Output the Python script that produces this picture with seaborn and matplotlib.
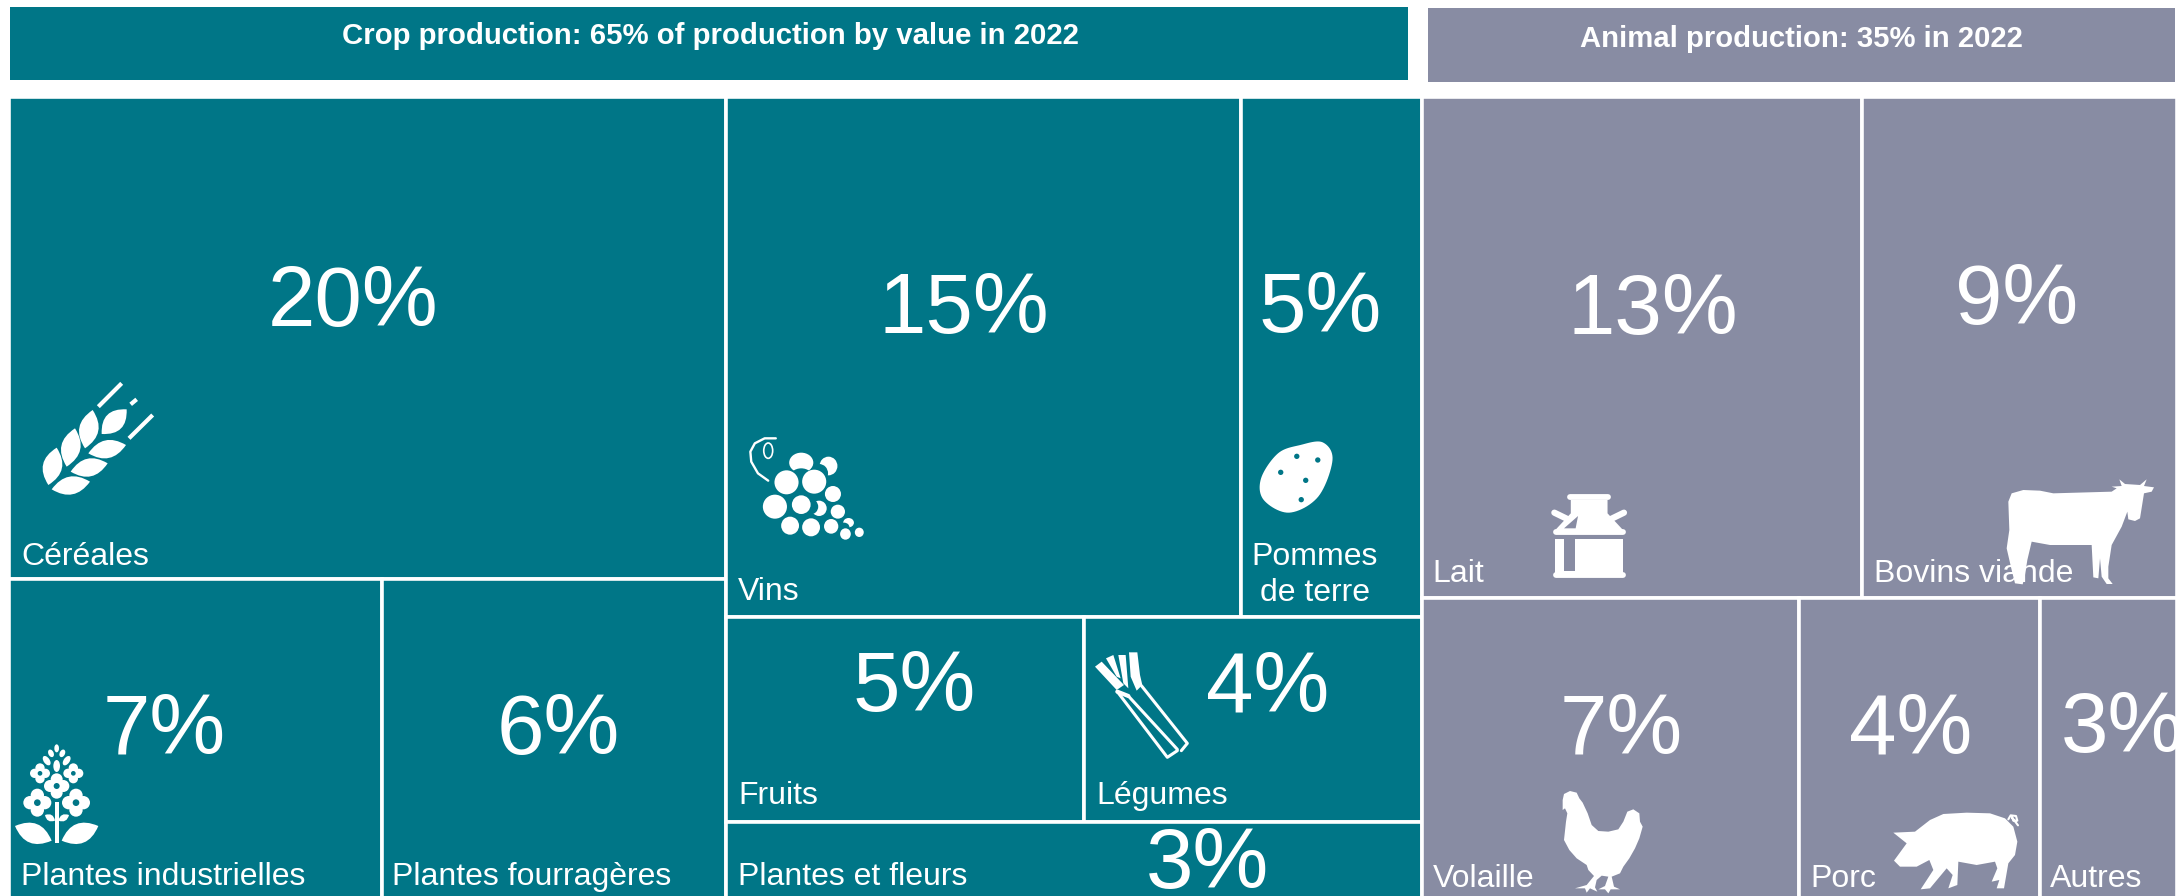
import matplotlib
matplotlib.use('Agg')
import matplotlib.pyplot as plt
from matplotlib.patches import Rectangle, Ellipse, Polygon, PathPatch
from matplotlib.path import Path
import numpy as np
import seaborn as sns

# --- Data ---
# cell areas are in % of the box, the printed labels are rounded separately in the source
cereal_col = ['Céréales', 'Plantes industrielles', 'Plantes fourragères']
cereal_area = [19.91, 6.85, 6.31]
cereal_pct = ['20%', '7%', '6%']

wine_row = ['Vins', 'Pommes\nde terre']
wine_area = [15.42, 5.43]
wine_pct = ['15%', '5%']

fruit_row = ['Fruits', 'Légumes']
fruit_area = [4.22, 3.98]
fruit_pct = ['5%', '4%']

flower_name = 'Plantes et fleurs'
flower_area = 3.05
flower_pct = '3%'

animal_top = ['Lait', 'Bovins viande']
animal_top_area = [12.72, 9.08]
animal_top_pct = ['13%', '9%']

animal_low = ['Volaille', 'Porc', 'Autres']
animal_low_area = [6.51, 4.16, 2.36]
animal_low_pct = ['7%', '4%', '3%']

crop_title = 'Crop production: 65% of production by value in 2022'
animal_title = 'Animal production: 35% in 2022'

# --- Style ---
sns.set_theme(style='white')
plt.rcParams['font.family'] = ['Liberation Sans', 'DejaVu Sans']
crop_col, animal_col = sns.color_palette(['#007687', '#888CA3'])
WHITE = 'white'

BOX = (9, 97, 2177, 898)  # pixels: left, top, right, bottom of the treemap

fig = plt.figure(figsize=(21.78, 8.96), dpi=100)
ax = fig.add_axes([0, 0, 1, 1])
ax.set_xlim(0, 2178)
ax.set_ylim(896, 0)
ax.axis('off')
sns.despine(ax=ax, left=True, bottom=True)

sx = (BOX[2] - BOX[0]) / (sum(cereal_area) + sum(wine_area) + sum(fruit_area) + flower_area
                          + sum(animal_top_area) + sum(animal_low_area))
box_h = BOX[3] - BOX[1]


def cell(x0, y0, x1, y1, color):
    ax.add_patch(Rectangle((x0, y0), x1 - x0, y1 - y0, facecolor=color, edgecolor=WHITE, lw=2.6, zorder=1))


def split_row(areas, x0, x1):
    # slice one row horizontally in proportion to its areas
    edges = [x0]
    for a in areas:
        edges.append(edges[-1] + (x1 - x0) * a / sum(areas))
    return edges


# crop, first column
c1 = BOX[0] + sx * sum(cereal_area)
c2 = c1 + sx * (sum(wine_area) + sum(fruit_area) + flower_area)
c3 = BOX[2]

y_cer = BOX[1] + box_h * cereal_area[0] / sum(cereal_area)
cell(BOX[0], BOX[1], c1, y_cer, crop_col)
e = split_row(cereal_area[1:], BOX[0], c1)
cell(e[0], y_cer, e[1], BOX[3], crop_col)
cell(e[1], y_cer, e[2], BOX[3], crop_col)

# crop, second column
col2_total = sum(wine_area) + sum(fruit_area) + flower_area
y_wine = BOX[1] + box_h * sum(wine_area) / col2_total
y_fruit = y_wine + box_h * sum(fruit_area) / col2_total
e = split_row(wine_area, c1, c2)
cell(e[0], BOX[1], e[1], y_wine, crop_col)
cell(e[1], BOX[1], e[2], y_wine, crop_col)
e = split_row(fruit_area, c1, c2)
cell(e[0], y_wine, e[1], y_fruit, crop_col)
cell(e[1], y_wine, e[2], y_fruit, crop_col)
cell(c1, y_fruit, c2, BOX[3], crop_col)

# animal column
y_an = BOX[1] + box_h * sum(animal_top_area) / (sum(animal_top_area) + sum(animal_low_area))
e = split_row(animal_top_area, c2, c3)
cell(e[0], BOX[1], e[1], y_an, animal_col)
cell(e[1], BOX[1], e[2], y_an, animal_col)
e = split_row(animal_low_area, c2, c3)
for i in range(3):
    cell(e[i], y_an, e[i + 1], BOX[3], animal_col)

# header bands
ax.add_patch(Rectangle((10, 7), 1398, 73.5, facecolor=crop_col, edgecolor='none'))
ax.add_patch(Rectangle((1428, 8.5), 747, 73.5, facecolor=animal_col, edgecolor='none'))
ax.text(710, 36, crop_title, color=WHITE, fontsize=21.2, fontweight='bold', ha='center', va='center')
ax.text(1801, 39, animal_title, color=WHITE, fontsize=21.1, fontweight='bold', ha='center', va='center')

# --- Text ---
pct_font = 61.5
name_font = 23


def pct(s, x, y):
    ax.text(x, y, s, color=WHITE, fontsize=pct_font, ha='center', va='center_baseline', zorder=3)


def name(s, x, y, ha='left'):
    ax.text(x, y, s, color=WHITE, fontsize=name_font, ha=ha, va='baseline', zorder=3, linespacing=1.25)


pct(cereal_pct[0], 353, 295)
pct(cereal_pct[1], 164, 723)
pct(cereal_pct[2], 558, 723)
pct(wine_pct[0], 964, 302)
pct(wine_pct[1], 1320, 301)
pct(fruit_pct[0], 914, 680)
pct(fruit_pct[1], 1268, 680)
pct(flower_pct, 1207, 857)
pct(animal_top_pct[0], 1653, 303)
pct(animal_top_pct[1], 2017, 293)
pct(animal_low_pct[0], 1621, 723)
pct(animal_low_pct[1], 1911, 723)
pct(animal_low_pct[2], 2122, 721)

name(cereal_col[0], 21, 565)
name(cereal_col[1], 21, 885)
name(cereal_col[2], 392, 885)
name(wine_row[0], 738, 600)
name(wine_row[1], 1315, 601, ha='center')
name(fruit_row[0], 738, 804)
name(fruit_row[1], 1096, 804)
name(flower_name, 738, 885)
name(animal_top[0], 1432, 582)
name(animal_top[1], 1874, 582)
name(animal_low[0], 1433, 887)
name(animal_low[1], 1810, 887)
name(animal_low[2], 2050, 887)


# --- Icons: the zoomed crops gave the outlines, so points go through a scale and an origin ---
def poly(pts, ox, oy, kx, ky, color=WHITE, z=4):
    ax.add_patch(Polygon([(ox + p[0] / kx, oy + p[1] / ky) for p in pts], closed=True,
                         facecolor=color, edgecolor='none', zorder=z))


def smooth(pts, n=12):
    # closed Catmull-Rom through the outline points
    p = np.array(pts, dtype=float)
    out = []
    for i in range(len(p)):
        p0, p1, p2, p3 = p[i - 1], p[i], p[(i + 1) % len(p)], p[(i + 2) % len(p)]
        for t in np.linspace(0, 1, n, endpoint=False):
            out.append(0.5 * (2 * p1 + (p2 - p0) * t + (2 * p0 - 5 * p1 + 4 * p2 - p3) * t ** 2
                              + (3 * p1 - p0 - 3 * p2 + p3) * t ** 3))
    return out


def oval(x, y, rx, ry, ox, oy, kx, ky, color=WHITE, z=4, angle=0):
    ax.add_patch(Ellipse((ox + x / kx, oy + y / ky), 2 * rx / kx, 2 * ry / ky, angle=angle,
                         facecolor=color, edgecolor='none', zorder=z))


def stroke(pts, ox, oy, kx, ky, lw=2.0, z=4, cap='round'):
    ax.plot([ox + p[0] / kx for p in pts], [oy + p[1] / ky for p in pts], color=WHITE, lw=lw,
            solid_capstyle=cap, zorder=z)


def leaf(base, tip, bulge, ox, oy, k, color=WHITE, z=4):
    # lens shape between two points, bulge is half its width
    bx, by = base
    tx, ty = tip
    mx, my = (bx + tx) / 2, (by + ty) / 2
    dx, dy = tx - bx, ty - by
    n = (dx ** 2 + dy ** 2) ** 0.5
    nx, ny = -dy / n * bulge * 2, dx / n * bulge * 2
    verts = [(bx, by), (mx + nx, my + ny), (tx, ty), (mx - nx, my - ny), (bx, by)]
    verts = [(ox + v[0] / k, oy + v[1] / k) for v in verts]
    path = Path(verts, [Path.MOVETO] + [Path.CURVE3] * 4)
    ax.add_patch(PathPatch(path, facecolor=color, edgecolor='none', zorder=z))


# wheat
ow, oh, k = 0, 350, 3
for b, t in [((145, 405), (170, 293)), ((200, 350), (225, 235)), ((255, 295), (278, 180))]:
    leaf(b, t, 29, ow, oh, k)
for b, t in [((155, 418), (270, 395)), ((212, 365), (323, 340)), ((265, 310), (378, 285))]:
    leaf(b, t, 27, ow, oh, k)
leaf((305, 252), (380, 178), 29, ow, oh, k)
stroke([(295, 170), (365, 100)], ow, oh, k, k, lw=3, cap='butt')
stroke([(392, 163), (410, 148)], ow, oh, k, k, lw=3, cap='butt')
stroke([(387, 265), (458, 195)], ow, oh, k, k, lw=3, cap='butt')

# grapes
ow, oh, kx, ky = 720, 410, 2.24, 3
for x, y, rx, ry in [(149, 217, 27, 36), (211, 215, 27, 36), (253, 252, 18, 24), (123, 290, 27, 36),
                     (182, 284, 21, 28), (264, 305, 16, 21), (157, 347, 20, 27), (204, 352, 20, 27),
                     (249, 349, 16, 22), (281, 372, 12, 17), (312, 367, 10, 14)]:
    oval(x, y, rx, ry, ow, oh, kx, ky)
for x, y, rx, ry, cx, cy in [(182, 158, 27, 30, 182, 205), (243, 168, 20, 28, 222, 190),
                             (222, 295, 17, 23, 203, 290), (288, 338, 12, 14, 278, 352)]:
    oval(x, y, rx, ry, ow, oh, kx, ky, z=3.5)
    oval(cx, cy, rx, ry, ow, oh, kx, ky, color=crop_col, z=3.6)
curl_x = [108, 85, 70, 68, 78, 100, 125]
curl_y = [212, 190, 155, 125, 100, 85, 85]
stroke(list(zip(curl_x, curl_y)), ow, oh, kx, ky, lw=1.7)
ax.add_patch(Ellipse((ow + 108 / kx, oh + 122 / ky), 20 / kx, 46 / ky, facecolor='none', edgecolor=WHITE, lw=1.2, zorder=4))

# potato
poly(smooth([(1350, 97), (1372, 150), (1340, 260), (1275, 308), (1218, 270), (1212, 205), (1250, 130), (1300, 105)]),
     ow, oh, kx, ky)
for x, y in [(1292, 139), (1339, 150), (1256, 187), (1312, 211), (1302, 269)]:
    oval(x, y, 6, 8, ow, oh, kx, ky, color=crop_col, z=5)

# rapeseed
ow, oh, k = 0, 720, 3
for x, y, r, d in [(170, 198, 18, 20), (112, 248, 20, 22), (228, 248, 20, 22), (120, 160, 14, 16), (220, 160, 14, 16)]:
    for px, py in [(x - d, y), (x + d, y), (x, y - d), (x, y + d)]:
        oval(px, py, r, r, ow, oh, k, k)
    oval(x, y, r * 0.5, r * 0.5, ow, oh, k, k, color=crop_col, z=5)
for x, y, rx, ry, an in [(170, 138, 10, 18, 0), (140, 122, 9, 16, -35), (200, 122, 9, 16, 35),
                         (153, 100, 8, 12, -25), (187, 100, 8, 12, 25), (170, 85, 7, 12, 0)]:
    oval(x, y, rx, ry, ow, oh, k, k, angle=an)
poly([(164, 245), (176, 245), (176, 368), (164, 368)], ow, oh, k, k)
leaf((165, 302), (135, 285), 10, ow, oh, k)
leaf((175, 302), (207, 285), 10, ow, oh, k)
leaf((155, 362), (45, 318), 30, ow, oh, k)
leaf((185, 362), (295, 318), 30, ow, oh, k)

# leek
ow, oh, k = 1060, 620, 3
poly([(105, 140), (125, 125), (192, 195), (170, 210)], ow, oh, k, k)
poly([(138, 115), (160, 105), (182, 175), (170, 170)], ow, oh, k, k)
poly([(175, 105), (197, 105), (205, 205), (190, 190)], ow, oh, k, k)
poly([(207, 97), (232, 97), (240, 165), (247, 195), (230, 212), (212, 170)], ow, oh, k, k)
stroke([(172, 215), (322, 412), (352, 392)], ow, oh, k, k, lw=2.2)
stroke([(205, 228), (352, 388)], ow, oh, k, k, lw=2.2)
stroke([(245, 198), (382, 370), (364, 392)], ow, oh, k, k, lw=2.2)
stroke([(172, 215), (205, 228)], ow, oh, k, k, lw=3.0)

# milk can
ow, oh, kx, ky = 1420, 460, 2.069, 3
stroke([(310, 112), (390, 112)], ow, oh, kx, ky, lw=4.2)
poly([(312, 120), (388, 120), (388, 160), (420, 210), (280, 210), (312, 160)], ow, oh, kx, ky)
stroke([(278, 158), (312, 182)], ow, oh, kx, ky, lw=4.5)
stroke([(422, 158), (388, 182)], ow, oh, kx, ky, lw=4.5)
stroke([(281, 216), (419, 216)], ow, oh, kx, ky, lw=4.2)
poly([(280, 237), (420, 237), (420, 340), (280, 340)], ow, oh, kx, ky)
poly([(298, 237), (320, 237), (320, 333), (298, 333)], ow, oh, kx, ky, color=animal_col, z=5)
stroke([(281, 346), (419, 346)], ow, oh, kx, ky, lw=4.2, z=6)
poly([(327, 168), (298, 205), (322, 205)], ow, oh, kx, ky, color=animal_col, z=5)

# cow
poly([(55, 95), (65, 70), (100, 60), (150, 62), (190, 70), (365, 65), (380, 55), (365, 50), (395, 48), (388, 28),
      (405, 42), (450, 45), (470, 28), (462, 48), (492, 52), (485, 65), (462, 70), (450, 145), (435, 153), (415, 148),
      (412, 125), (395, 170), (365, 225), (355, 290), (355, 325), (368, 342), (350, 342), (335, 320), (330, 265),
      (325, 325), (310, 322), (305, 225), (245, 225), (180, 225), (125, 215), (112, 270), (105, 315), (98, 343),
      (75, 340), (65, 300), (50, 235), (58, 180)], 1990, 470, 3, 3)

# hen
poly([(68, 60), (72, 42), (90, 33), (110, 38), (118, 55), (128, 68), (143, 100), (155, 135), (175, 153), (205, 155),
      (235, 148), (250, 125), (262, 95), (280, 88), (298, 100), (300, 125), (308, 140), (298, 175), (285, 205),
      (268, 235), (250, 260), (240, 280), (215, 290), (222, 320), (240, 328), (212, 328), (205, 340), (195, 328),
      (175, 328), (195, 318), (205, 290), (185, 287), (170, 300), (165, 322), (172, 335), (150, 325), (140, 338),
      (135, 325), (105, 325), (140, 315), (162, 288), (145, 270), (140, 255), (110, 235), (88, 210), (72, 180),
      (78, 125), (82, 100), (75, 85), (68, 90)], 1540, 780, 3, 3)

# pig
poly([(40, 98), (105, 95), (150, 60), (190, 42), (260, 38), (330, 40), (375, 55), (400, 80), (412, 125), (405, 165),
      (385, 190), (372, 265), (350, 265), (358, 240), (335, 245), (352, 205), (345, 185), (290, 195), (235, 185),
      (232, 255), (205, 265), (218, 225), (200, 205), (150, 265), (122, 268), (160, 210), (148, 180), (110, 200),
      (60, 200), (42, 182), (80, 130)], 1880, 800, 3, 3)
stroke([(385, 58), (392, 46), (408, 48), (412, 62), (400, 62), (396, 52), (414, 76)], 1880, 800, 3, 3, lw=1.5)

fig.savefig('out.png', dpi=100)
